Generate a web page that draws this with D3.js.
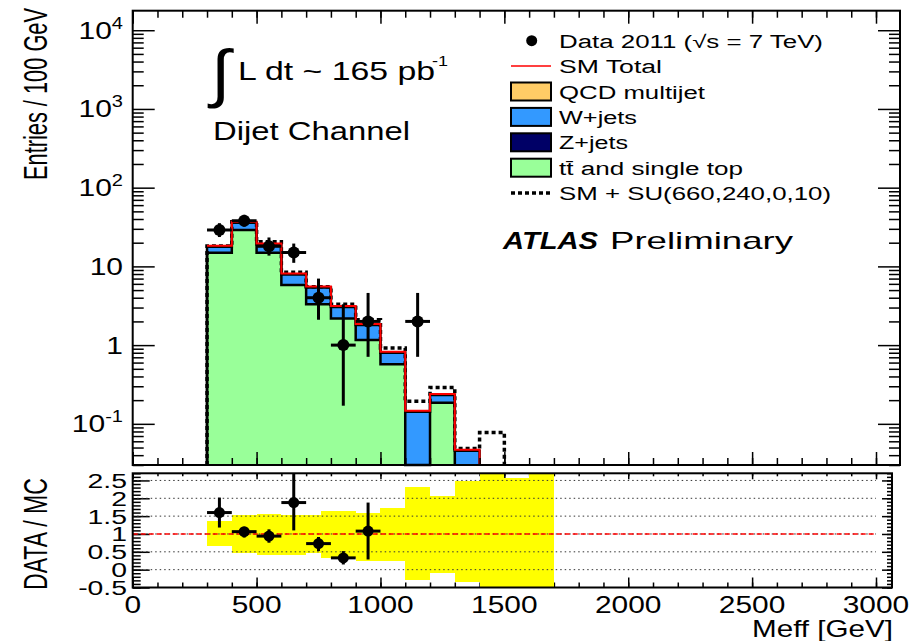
<!DOCTYPE html>
<html>
<head>
<meta charset="utf-8">
<title>Meff dijet channel</title>
<script src="https://cdn.jsdelivr.net/npm/d3@7"></script>
<style>
body { margin: 0; background: #fff; }
svg { display: block; font-family: "Liberation Sans", Arial, sans-serif; }
</style>
</head>
<body>
<svg id="chart" width="912" height="641"></svg>
<script>
// ---- data ----
var binLo    = [300, 400, 500, 600, 700, 800, 900, 1000, 1100, 1200, 1300, 1400];
var binWidth = 100;
var ttbar    = [14.9, 28.9, 14.9, 5.8, 3.3, 2.18, 1.16, 0.57, 0, 0.185, 0, 0];
var wjets    = [2.8, 6.9, 4.1, 2.1, 2.1, 0.86, 0.64, 0.23, 0.142, 0.047, 0.0454, 0];
var zjets    = [0, 0, 0, 0, 0, 0, 0, 0, 0, 0, 0, 0];
var qcd      = [0, 0, 0, 0, 0, 0, 0, 0, 0, 0, 0, 0];
var smPlusSU = [18.2, 36.9, 20.5, 8.4, 5.5, 3.3, 2.1, 0.92, 0.194, 0.29, 0.0487, 0.0778];

var dataX  = [350, 450, 550, 650, 750, 850, 950, 1150];
var dataY  = [29, 38, 18, 15, 4, 1, 2, 2];
var dataLo = [23.6, 31.9, 13.7, 11.1, 2.1, 0.17, 0.71, 0.71];
var dataHi = [35.4, 45.2, 23.3, 19.5, 7.0, 3.3, 4.6, 4.6];

var ratioX  = [350, 450, 550, 650, 750, 850, 950];
var ratioY  = [1.60, 1.065, 0.94, 1.88, 0.73, 0.33, 1.08];
var ratioLo = [1.18, 0.90, 0.755, 1.10, 0.52, 0.145, 0.285];
var ratioHi = [2.02, 1.20, 1.13, 2.68, 0.915, 0.52, 1.88];

var bandEdges = [300, 400, 500, 600, 700, 760, 900, 1000, 1100, 1200, 1300, 1400, 1500, 1600, 1700];
var bandLo    = [0.662, 0.473, 0.408, 0.41, 0.47, 0.33, 0.256, 0.24, -0.28, -0.09, -0.34, -0.5, -0.5, -0.5];
var bandHi    = [1.366, 1.524, 1.552, 1.52, 1.52, 1.65, 1.58, 1.74, 2.33, 2.07, 2.49, 2.7, 2.56, 2.7];

var yMajor = [0.1, 1, 10, 100, 1000, 10000];
var yLabels = [["10", "-1"], ["1", ""], ["10", ""], ["10", "2"], ["10", "3"], ["10", "4"]];
var rMajor = [-0.5, 0, 0.5, 1, 1.5, 2, 2.5];
var rLabels = ["-0.5", "0", "0.5", "1", "1.5", "2", "2.5"];
var xMajor = [0, 500, 1000, 1500, 2000, 2500, 3000];

var legendRows = [
  {label: "Data 2011 (\u221As = 7 TeV)", kind: "dot", len: 264},
  {label: "SM Total", kind: "red", len: 103},
  {label: "QCD multijet", kind: "box", color: "#ffcc66", len: 146},
  {label: "W+jets", kind: "box", color: "#3399ff", len: 78},
  {label: "Z+jets", kind: "box", color: "#000066", len: 69},
  {label: "tt\u0304 and single top", kind: "box", color: "#99ff99", len: 184},
  {label: "SM + SU(660,240,0,10)", kind: "dash", len: 272}
];

// ---- layout ----
var svg = d3.select("#chart");
var up  = {l: 132.7, r: 900, t: 10.7, b: 465};
var bot = {l: 132.7, r: 892, t: 473.3, b: 587.5};

var x  = d3.scaleLinear().domain([0, 3000]).range([132.7, 876]);
var y  = d3.scaleLog().domain([0.03, 17700]).range([up.b, up.t]).clamp(true);
var yr = d3.scaleLinear().domain([-0.5, 2.7]).range([bot.b, bot.t]).clamp(true);

function yv(v) { return v > 0 ? y(v) : up.b; }

function txt(parent, px, py, s, o) {
  var tr = "translate(" + px + "," + py + ") scale(" + (o.sx || 1) + ",1)" + (o.rot ? " rotate(" + o.rot + ")" : "");
  var t = parent.append("text").attr("transform", tr)
    .attr("font-size", o.size).attr("text-anchor", o.anchor || "start")
    .attr("font-weight", o.weight || "normal").attr("font-style", o.style || "normal")
    .text(s);
  if (o.len) t.attr("textLength", o.len).attr("lengthAdjust", "spacingAndGlyphs");
  return t;
}

// stacked layers
var layers = [ttbar, wjets, zjets, qcd];
var layerColors = ["#99ff99", "#3399ff", "#000066", "#ffcc66"];
var cum = binLo.map(function() { return 0; });
var tops = [];
var gUp = svg.append("g");
layers.forEach(function(vals, li) {
  var prev = cum.slice();
  cum = cum.map(function(c, i) { return c + vals[i]; });
  tops.push(cum.slice());
  binLo.forEach(function(lo, i) {
    if (vals[i] <= 0) return;
    gUp.append("rect").attr("x", x(lo)).attr("width", x(lo + binWidth) - x(lo))
      .attr("y", yv(cum[i])).attr("height", yv(prev[i]) - yv(cum[i]))
      .attr("fill", layerColors[li]).attr("shape-rendering", "crispEdges");
  });
});
var total = cum;

function stepPath(vals, fromBottom, toBottom) {
  var p = d3.path();
  var n = vals.length;
  if (fromBottom) { p.moveTo(x(binLo[0]), up.b); p.lineTo(x(binLo[0]), yv(vals[0])); }
  else p.moveTo(x(binLo[0]), yv(vals[0]));
  for (var i = 0; i < n; i++) {
    p.lineTo(x(binLo[i]), yv(vals[i]));
    p.lineTo(x(binLo[i] + binWidth), yv(vals[i]));
  }
  if (toBottom) p.lineTo(x(binLo[n - 1] + binWidth), up.b);
  return p.toString();
}

// black outlines of stack
[tops[0], tops[1]].forEach(function(t) {
  var last = 0;
  t.forEach(function(v, i) { if (v > 0) last = i; });
  gUp.append("path").attr("d", stepPath(t.slice(0, last + 1), true, true))
    .attr("fill", "none").attr("stroke", "#000").attr("stroke-width", 2.5);
});

// SM + SU dashed
gUp.append("path").attr("d", stepPath(smPlusSU, true, true))
  .attr("fill", "none").attr("stroke", "#000").attr("stroke-width", 3.5)
  .attr("stroke-dasharray", "4,3");

// SM total red
var lastT = 0;
total.forEach(function(v, i) { if (v > 0) lastT = i; });
gUp.append("path").attr("d", stepPath(total.slice(0, lastT + 1), false, true))
  .attr("fill", "none").attr("stroke", "#ff0000").attr("stroke-width", 2)
  .attr("transform", "translate(0,-1)");

// data points
dataX.forEach(function(cx, i) {
  gUp.append("line").attr("x1", x(cx)).attr("x2", x(cx)).attr("y1", y(dataLo[i])).attr("y2", y(dataHi[i]))
    .attr("stroke", "#000").attr("stroke-width", 3);
  gUp.append("line").attr("x1", x(cx - 50)).attr("x2", x(cx + 50)).attr("y1", y(dataY[i])).attr("y2", y(dataY[i]))
    .attr("stroke", "#000").attr("stroke-width", 3);
  gUp.append("circle").attr("cx", x(cx)).attr("cy", y(dataY[i])).attr("r", 6).attr("fill", "#000");
});

// upper frame and ticks
var minorLog = [];
[-2, -1, 0, 1, 2, 3, 4].forEach(function(e) {
  for (var k = 2; k <= 9; k++) {
    var v = k * Math.pow(10, e);
    if (v >= 0.03 && v <= 17700) minorLog.push(v);
  }
});
var xMinor = d3.range(0, 3001, 100);

function ticks(g, axis, vals, size) {
  g.call(axis.tickValues(vals).tickSize(size).tickFormat(""));
  g.select(".domain").remove();
  g.selectAll("line").attr("stroke", "#000").attr("stroke-width", 1.5);
}
var gAx = svg.append("g");
ticks(gAx.append("g").attr("transform", "translate(" + up.l + ",0)"), d3.axisLeft(y), yMajor, -22);
ticks(gAx.append("g").attr("transform", "translate(" + up.l + ",0)"), d3.axisLeft(y), minorLog, -11);
ticks(gAx.append("g").attr("transform", "translate(" + up.r + ",0)"), d3.axisRight(y), yMajor, -22);
ticks(gAx.append("g").attr("transform", "translate(" + up.r + ",0)"), d3.axisRight(y), minorLog, -11);
ticks(gAx.append("g").attr("transform", "translate(0," + up.b + ")"), d3.axisBottom(x), xMajor, -13);
ticks(gAx.append("g").attr("transform", "translate(0," + up.b + ")"), d3.axisBottom(x), xMinor, -7);
ticks(gAx.append("g").attr("transform", "translate(0," + up.t + ")"), d3.axisTop(x), xMajor, -13);
ticks(gAx.append("g").attr("transform", "translate(0," + up.t + ")"), d3.axisTop(x), xMinor, -7);
svg.append("rect").attr("x", up.l).attr("y", up.t).attr("width", up.r - up.l).attr("height", up.b - up.t)
  .attr("fill", "none").attr("stroke", "#000").attr("stroke-width", 2);

// upper y labels
yMajor.forEach(function(v, i) {
  var t = txt(svg, 123, y(v) + 8.5, "", {size: 24, anchor: "end", sx: 1.25});
  t.append("tspan").text(yLabels[i][0]);
  if (yLabels[i][1]) t.append("tspan").attr("dy", -10).attr("font-size", 16).text(yLabels[i][1]);
});
txt(svg, 47, 180, "Entries / 100 GeV", {size: 22, sx: 1.55, rot: -90, len: 172});

// ---- lower ratio pad ----
var gLo = svg.append("g");
bandLo.forEach(function(lo, i) {
  gLo.append("rect").attr("x", x(bandEdges[i])).attr("width", x(bandEdges[i + 1]) - x(bandEdges[i]))
    .attr("y", yr(bandHi[i])).attr("height", yr(lo) - yr(bandHi[i])).attr("fill", "#ffff00")
    .attr("shape-rendering", "crispEdges");
});
rMajor.slice(1).forEach(function(v) {
  gLo.append("line").attr("x1", x(0)).attr("x2", x(3000)).attr("y1", yr(v)).attr("y2", yr(v))
    .attr("stroke", "#333").attr("stroke-width", 1).attr("stroke-dasharray", "1.5,3");
});
gLo.append("line").attr("x1", x(0)).attr("x2", x(3000)).attr("y1", yr(1)).attr("y2", yr(1))
  .attr("stroke", "#ff0000").attr("stroke-width", 1.5).attr("stroke-dasharray", "5,3");
ratioX.forEach(function(cx, i) {
  gLo.append("line").attr("x1", x(cx)).attr("x2", x(cx)).attr("y1", yr(ratioLo[i])).attr("y2", yr(ratioHi[i]))
    .attr("stroke", "#000").attr("stroke-width", 3);
  gLo.append("line").attr("x1", x(cx - 50)).attr("x2", x(cx + 50)).attr("y1", yr(ratioY[i])).attr("y2", yr(ratioY[i]))
    .attr("stroke", "#000").attr("stroke-width", 3);
  gLo.append("circle").attr("cx", x(cx)).attr("cy", yr(ratioY[i])).attr("r", 5.5).attr("fill", "#000");
});
var rMinor = d3.range(-0.5, 2.71, 0.1);
ticks(gAx.append("g").attr("transform", "translate(" + bot.l + ",0)"), d3.axisLeft(yr), rMajor, -17);
ticks(gAx.append("g").attr("transform", "translate(" + bot.l + ",0)"), d3.axisLeft(yr), rMinor, -8);
ticks(gAx.append("g").attr("transform", "translate(" + bot.r + ",0)"), d3.axisRight(yr), rMajor, -10);
ticks(gAx.append("g").attr("transform", "translate(" + bot.r + ",0)"), d3.axisRight(yr), rMinor, -5);
ticks(gAx.append("g").attr("transform", "translate(0," + bot.b + ")"), d3.axisBottom(x), xMajor, -10);
ticks(gAx.append("g").attr("transform", "translate(0," + bot.b + ")"), d3.axisBottom(x), xMinor, -5);
ticks(gAx.append("g").attr("transform", "translate(0," + bot.t + ")"), d3.axisTop(x), xMajor, -6);
ticks(gAx.append("g").attr("transform", "translate(0," + bot.t + ")"), d3.axisTop(x), xMinor, -3);
svg.append("rect").attr("x", bot.l).attr("y", bot.t).attr("width", bot.r - bot.l).attr("height", bot.b - bot.t)
  .attr("fill", "none").attr("stroke", "#000").attr("stroke-width", 2);

rMajor.forEach(function(v, i) {
  txt(svg, 127, yr(v) + 7.5, rLabels[i], {size: 21, anchor: "end", sx: 1.35});
});
xMajor.forEach(function(v) {
  txt(svg, x(v), 613, String(v), {size: 23, anchor: "middle", sx: 1.3});
});
txt(svg, 47, 590, "DATA / MC", {size: 22, sx: 1.55, rot: -90, len: 112});
txt(svg, 752, 637, "Meff [GeV]", {size: 24, len: 141});

// ---- annotations ----
txt(svg, 211, 95, "\u222B", {size: 64, sx: 1.1});
txt(svg, 238, 80, "L dt ~ 165 pb", {size: 25, len: 197});
txt(svg, 432, 66, "-1", {size: 15, sx: 1.2});
txt(svg, 213, 140, "Dijet Channel", {size: 25, len: 197});
txt(svg, 503, 249, "ATLAS", {size: 24, weight: "bold", style: "italic", len: 95});
txt(svg, 610, 249, "Preliminary", {size: 24, len: 183});

// ---- legend ----
var gLeg = svg.append("g");
legendRows.forEach(function(r, i) {
  var cy = 40.7 + i * 25.4;
  if (r.kind === "dot") gLeg.append("circle").attr("cx", 531.7).attr("cy", cy).attr("r", 5.5).attr("fill", "#000");
  if (r.kind === "red") gLeg.append("line").attr("x1", 511).attr("x2", 551).attr("y1", cy).attr("y2", cy)
    .attr("stroke", "#ff0000").attr("stroke-width", 1.5);
  if (r.kind === "dash") gLeg.append("line").attr("x1", 511).attr("x2", 551).attr("y1", cy).attr("y2", cy)
    .attr("stroke", "#000").attr("stroke-width", 3.5).attr("stroke-dasharray", "4,3");
  if (r.kind === "box") gLeg.append("rect").attr("x", 511).attr("y", cy - 9).attr("width", 40).attr("height", 18)
    .attr("fill", r.color).attr("stroke", "#000").attr("stroke-width", 2);
  txt(gLeg, 559, cy + 7, r.label, {size: 18, len: r.len});
});
</script>
</body>
</html>
